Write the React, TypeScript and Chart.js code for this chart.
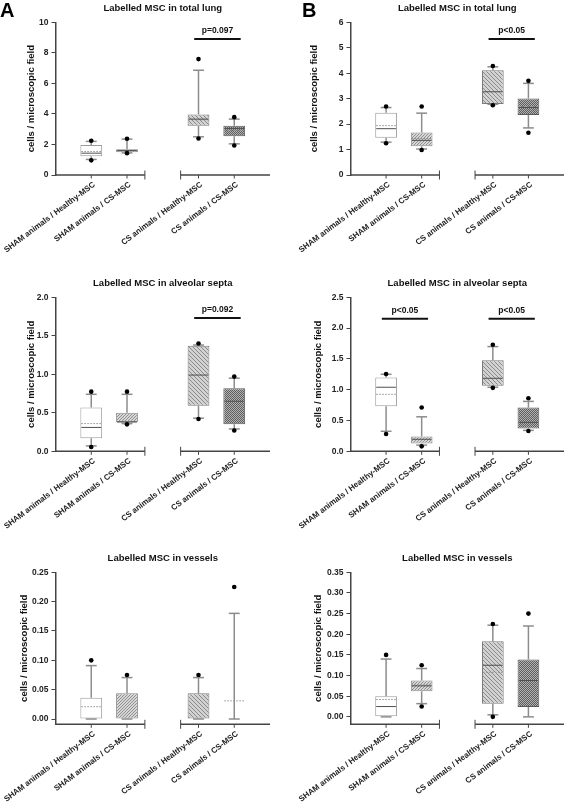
import React, { useEffect, useRef } from 'react';
import { Chart, registerables } from 'chart.js';

Chart.register(...registerables);

const FONT = "'Liberation Sans', Arial, Helvetica, sans-serif";

// ---------- shared categories ----------
const categories = ['', 'SHAM animals / Healthy-MSC', 'SHAM animals / CS-MSC', '', 'CS animals / Healthy-MSC', 'CS animals / CS-MSC', ''];
const groupSlots = [1, 2, 4, 5];
const yAxisTitle = 'cells / microscopic field';

// ---------- A: total lung ----------
const titleA1 = 'Labelled MSC in total lung';
const yTicksA1 = [0, 2, 4, 6, 8, 10];
const q1A1 = [1.23, 1.49, 3.22, 2.54];
const q3A1 = [1.97, 1.69, 3.97, 3.22];
const medA1 = [1.43, 1.6, 3.66, 3.05];
const meanA1 = [1.54, null, 3.62, 2.92];
const wLoA1 = [1.02, 1.45, 2.5, 2.04];
const wHiA1 = [2.2, 2.35, 6.86, 3.66];
const outLoA1 = [0.96, 1.43, 2.39, 1.93];
const outHiA1 = [2.24, 2.37, 7.59, 3.79];
const pBarsA1: [number, number, number, string][] = [[4, 5, 8.9, 'p=0.097']];

// ---------- B: total lung ----------
const titleB1 = 'Labelled MSC in total lung';
const yTicksB1 = [0, 1, 2, 3, 4, 5, 6];
const q1B1 = [1.46, 1.13, 2.79, 2.36];
const q3B1 = [2.45, 1.67, 4.12, 3.01];
const medB1 = [1.82, 1.36, 3.27, 2.65];
const meanB1 = [1.94, 1.43, null, 2.69];
const wLoB1 = [1.29, 1.02, 2.78, 1.85];
const wHiB1 = [2.65, 2.43, 4.25, 3.6];
const outLoB1 = [1.25, 0.98, 2.74, 1.66];
const outHiB1 = [2.69, 2.69, 4.28, 3.7];
const pBarsB1: [number, number, number, string][] = [[4, 5, 5.34, 'p<0.05']];

// ---------- A: alveolar septa ----------
const titleA2 = 'Labelled MSC in alveolar septa';
const yTicksA2 = [0, 0.5, 1.0, 1.5, 2.0];
const q1A2 = [0.17, 0.38, 0.59, 0.35];
const q3A2 = [0.57, 0.5, 1.37, 0.82];
const medA2 = [0.31, 0.38, 0.99, 0.65];
const meanA2 = [0.36, null, null, null];
const wLoA2 = [0.07, 0.36, 0.43, 0.29];
const wHiA2 = [0.74, 0.74, 1.38, 0.95];
const outLoA2 = [0.056, 0.35, 0.42, 0.27];
const outHiA2 = [0.775, 0.775, 1.4, 0.97];
const pBarsA2: [number, number, number, string][] = [[4, 5, 1.73, 'p=0.092']];

// ---------- B: alveolar septa ----------
const titleB2 = 'Labelled MSC in alveolar septa';
const yTicksB2 = [0, 0.5, 1.0, 1.5, 2.0, 2.5];
const q1B2 = [0.73, 0.125, 1.066, 0.37];
const q3B2 = [1.2, 0.24, 1.48, 0.71];
const medB2 = [1.04, 0.195, 1.185, 0.47];
const meanB2 = [0.925, null, null, null];
const wLoB2 = [0.325, 0.1, 1.04, 0.34];
const wHiB2 = [1.25, 0.56, 1.7, 0.81];
const outLoB2 = [0.28, 0.08, 1.03, 0.33];
const outHiB2 = [1.255, 0.71, 1.73, 0.86];
const pBarsB2: [number, number, number, string][] = [[1, 2, 2.15, 'p<0.05'], [4, 5, 2.15, 'p<0.05']];

// ---------- A: vessels ----------
const titleA3 = 'Labelled MSC in vessels';
const yTicksA3 = [0, 0.05, 0.1, 0.15, 0.2, 0.25];
const q1A3 = [0, 0, 0, null];
const q3A3 = [0.0364, 0.0438, 0.0438, null];
const medA3 = [null, null, null, null];
const meanA3 = [0.021, null, null, 0.031];
const wLoA3 = [0, 0, 0, 0];
const wHiA3 = [0.091, 0.0706, 0.0706, 0.18];
const outLoA3 = [null, null, null, null];
const outHiA3 = [0.1, 0.075, 0.075, 0.225];
const pBarsA3: [number, number, number, string][] = [];

// ---------- B: vessels ----------
const titleB3 = 'Labelled MSC in vessels';
const yTicksB3 = [0, 0.05, 0.1, 0.15, 0.2, 0.25, 0.3, 0.35];
const q1B3 = [0, 0.062, 0.0315, 0.024];
const q3B3 = [0.05, 0.088, 0.183, 0.139];
const medB3 = [0.025, 0.075, 0.125, 0.088];
const meanB3 = [0.042, 0.077, 0.108, null];
const wLoB3 = [0, 0.032, 0.005, 0];
const wHiB3 = [0.14, 0.117, 0.222, 0.22];
const outLoB3 = [null, 0.025, 0, null];
const outHiB3 = [0.15, 0.125, 0.225, 0.25];
const pBarsB3: [number, number, number, string][] = [];

type Num = number | null;
type Geo = { left: number; top: number; w: number; h: number; axisX: number; right: number; topY: number; bottomY: number; titleX: number };
type Panel = {
  title: string; ticks: number[]; dec: number; min: number; max: number;
  q1: Num[]; q3: Num[]; med: Num[]; mean: Num[]; wLo: Num[]; wHi: Num[]; oLo: Num[]; oHi: Num[];
  pBars: [number, number, number, string][]; g: Geo;
};

const panels: Panel[] = [
  { title: titleA1, ticks: yTicksA1, dec: 0, min: 0, max: 10, q1: q1A1, q3: q3A1, med: medA1, mean: meanA1, wLo: wLoA1, wHi: wHiA1, oLo: outLoA1, oHi: outHiA1, pBars: pBarsA1,
    g: { left: 0, top: 0, w: 283, h: 270, axisX: 55.5, right: 270, topY: 22.3, bottomY: 175, titleX: 31.7 } },
  { title: titleB1, ticks: yTicksB1, dec: 0, min: 0, max: 6, q1: q1B1, q3: q3B1, med: medB1, mean: meanB1, wLo: wLoB1, wHi: wHiB1, oLo: outLoB1, oHi: outHiB1, pBars: pBarsB1,
    g: { left: 283, top: 0, w: 284, h: 270, axisX: 67.5, right: 281, topY: 22.3, bottomY: 175, titleX: 31.7 } },
  { title: titleA2, ticks: yTicksA2, dec: 1, min: 0, max: 2, q1: q1A2, q3: q3A2, med: medA2, mean: meanA2, wLo: wLoA2, wHi: wHiA2, oLo: outLoA2, oHi: outHiA2, pBars: pBarsA2,
    g: { left: 0, top: 270, w: 283, h: 270, axisX: 55.5, right: 270, topY: 27.3, bottomY: 181.3, titleX: 31 } },
  { title: titleB2, ticks: yTicksB2, dec: 1, min: 0, max: 2.5, q1: q1B2, q3: q3B2, med: medB2, mean: meanB2, wLo: wLoB2, wHi: wHiB2, oLo: outLoB2, oHi: outHiB2, pBars: pBarsB2,
    g: { left: 283, top: 270, w: 284, h: 270, axisX: 67.5, right: 281, topY: 27.3, bottomY: 181.3, titleX: 35 } },
  { title: titleA3, ticks: yTicksA3, dec: 2, min: -0.009, max: 0.25, q1: q1A3, q3: q3A3, med: medA3, mean: meanA3, wLo: wLoA3, wHi: wHiA3, oLo: outLoA3, oHi: outHiA3, pBars: pBarsA3,
    g: { left: 0, top: 540, w: 283, h: 269, axisX: 55.5, right: 270, topY: 32.3, bottomY: 184.3, titleX: 24 } },
  { title: titleB3, ticks: yTicksB3, dec: 2, min: -0.018, max: 0.35, q1: q1B3, q3: q3B3, med: medB3, mean: meanB3, wLo: wLoB3, wHi: wHiB3, oLo: outLoB3, oHi: outHiB3, pBars: pBarsB3,
    g: { left: 283, top: 540, w: 284, h: 269, axisX: 67.5, right: 281, topY: 32.3, bottomY: 184.3, titleX: 35 } },
];

function makePattern(kind: string): CanvasPattern | string {
  const c = document.createElement('canvas');
  const ctx = c.getContext('2d');
  if (!ctx) return '#ccc';
  const px = (x: number, y: number, col: string) => { ctx.fillStyle = col; ctx.fillRect(x, y, 1, 1); };
  if (kind === 'fine') {
    c.width = 3; c.height = 3;
    ctx.fillStyle = '#d6d6d6'; ctx.fillRect(0, 0, 3, 3);
    px(2, 0, '#909090'); px(1, 1, '#909090'); px(0, 2, '#909090');
  } else if (kind === 'diag') {
    c.width = 4; c.height = 4;
    ctx.fillStyle = '#d2d2d2'; ctx.fillRect(0, 0, 4, 4);
    for (let i = 0; i < 4; i++) px(i, i, '#8a8a8a');
  } else {
    c.width = 2; c.height = 2;
    px(0, 0, '#5e5e5e'); px(1, 1, '#5e5e5e'); px(1, 0, '#b2b2b2'); px(0, 1, '#b2b2b2');
  }
  return ctx.createPattern(c, 'repeat') || '#ccc';
}

function slotArray(vals: Num[]): Num[] {
  const out: Num[] = categories.map(() => null);
  groupSlots.forEach((s, k) => { out[s] = vals[k]; });
  return out;
}

function makeDecor(p: Panel) {
  const barWidth = (chart: any) => {
    const meta = chart.getDatasetMeta(0);
    for (const s of groupSlots) {
      const el = meta.data[s];
      if (el && isFinite(el.width) && el.width > 0) return el.width;
    }
    return 20;
  };
  const hline = (ctx: CanvasRenderingContext2D, x0: number, x1: number, y: number) => {
    ctx.beginPath(); ctx.moveTo(x0, y); ctx.lineTo(x1, y); ctx.stroke();
  };
  const vline = (ctx: CanvasRenderingContext2D, x: number, y0: number, y1: number) => {
    ctx.beginPath(); ctx.moveTo(x, y0); ctx.lineTo(x, y1); ctx.stroke();
  };
  return {
    id: 'boxDecor',
    beforeDatasetsDraw(chart: any) {
      const { ctx, scales: { x, y } } = chart;
      const bw = barWidth(chart);
      const cap = bw / 2;
      ctx.save();
      ctx.strokeStyle = '#8c8c8c';
      ctx.lineWidth = 1.5;
      groupSlots.forEach((slot, k) => {
        const cx = x.getPixelForValue(slot);
        const hi = p.wHi[k];
        const lo = p.wLo[k];
        const upStart = p.q3[k] ?? lo ?? 0;
        const lowStart = p.q1[k] ?? lo ?? 0;
        if (hi != null) {
          vline(ctx, cx, y.getPixelForValue(upStart), y.getPixelForValue(hi));
          hline(ctx, cx - cap / 2, cx + cap / 2, y.getPixelForValue(hi));
        }
        if (lo != null) {
          vline(ctx, cx, y.getPixelForValue(lowStart), y.getPixelForValue(lo));
          hline(ctx, cx - cap / 2, cx + cap / 2, y.getPixelForValue(lo));
        }
      });
      ctx.restore();
    },
    afterDatasetDraw(chart: any, args: any) {
      if (args.index !== 0) return;
      const { ctx, scales: { x, y } } = chart;
      const bw = barWidth(chart);
      ctx.save();
      groupSlots.forEach((slot, k) => {
        const cx = x.getPixelForValue(slot);
        const m = p.med[k];
        const mn = p.mean[k];
        if (mn != null) {
          ctx.strokeStyle = '#8f8f8f'; ctx.lineWidth = 1; ctx.setLineDash([1.5, 1.5]);
          hline(ctx, cx - bw / 2 + 1, cx + bw / 2 - 1, y.getPixelForValue(mn));
        }
        if (m != null) {
          ctx.strokeStyle = '#505050'; ctx.lineWidth = 1; ctx.setLineDash([]);
          hline(ctx, cx - bw / 2 + 1, cx + bw / 2 - 1, y.getPixelForValue(m));
        }
      });
      ctx.restore();
    },
    afterDraw(chart: any) {
      const { ctx, chartArea, scales: { x, y } } = chart;
      const y0 = chartArea.bottom;
      ctx.save();
      ctx.strokeStyle = '#444';
      ctx.lineWidth = 1.5;
      hline(ctx, x.getPixelForValue(0), x.getPixelForValue(2.5), y0);
      hline(ctx, x.getPixelForValue(3.5), x.getPixelForValue(6), y0);
      ctx.lineWidth = 1;
      vline(ctx, x.getPixelForValue(2.5), y0 - 4.5, y0 + 4.5);
      vline(ctx, x.getPixelForValue(3.5), y0 - 4.5, y0 + 4.5);
      groupSlots.forEach((s) => vline(ctx, x.getPixelForValue(s), y0, y0 + 3.5));
      // significance bars
      p.pBars.forEach(([a, b, v, label]) => {
        const yy = y.getPixelForValue(v);
        ctx.strokeStyle = '#111';
        ctx.lineWidth = 2;
        const xa = x.getPixelForValue(a - 0.12);
        const xb = x.getPixelForValue(b + 0.18);
        hline(ctx, xa, xb, yy);
        ctx.fillStyle = '#111';
        ctx.font = `bold 8.5px ${FONT}`;
        ctx.textAlign = 'center';
        ctx.textBaseline = 'middle';
        ctx.fillText(label, (xa + xb) / 2, yy - 8);
      });
      ctx.restore();
    },
  };
}

function ChartPanel({ p }: { p: Panel }) {
  const ref = useRef<HTMLCanvasElement>(null);
  useEffect(() => {
    const canvas = ref.current;
    if (!canvas) return;
    const g = p.g;
    const fills = [
      null, '#ffffff', makePattern('fine'), null, makePattern('diag'), makePattern('check'), null,
    ];
    const borders = [null, '#9c9c9c', '#8a8a8a', null, '#7a7a7a', '#5a5a5a', null];
    const boxData = groupSlots.reduce((arr: any[], s, k) => {
      const a = p.q1[k]; const b = p.q3[k];
      arr[s] = a != null && b != null ? [a, b] : null;
      return arr;
    }, categories.map(() => null));
    const chart = new Chart(canvas, {
      type: 'bar',
      data: {
        labels: categories,
        datasets: [
          {
            type: 'bar', data: boxData, backgroundColor: fills as any, borderColor: borders as any,
            borderWidth: 1, borderSkipped: false, barPercentage: 0.61, categoryPercentage: 1, order: 3,
          } as any,
          {
            type: 'line', data: slotArray(p.oHi), showLine: false, pointRadius: 2.3, pointHoverRadius: 2.3,
            pointBackgroundColor: '#000', pointBorderColor: '#000', pointBorderWidth: 0, order: 1,
          } as any,
          {
            type: 'line', data: slotArray(p.oLo), showLine: false, pointRadius: 2.3, pointHoverRadius: 2.3,
            pointBackgroundColor: '#000', pointBorderColor: '#000', pointBorderWidth: 0, order: 2,
          } as any,
        ],
      },
      options: {
        animation: false,
        responsive: false,
        maintainAspectRatio: false,
        events: [],
        layout: { padding: { left: 0, right: g.w - g.right, top: g.topY - 19.4, bottom: 0 } },
        plugins: {
          legend: { display: false },
          tooltip: { enabled: false },
          title: {
            display: true, text: p.title, fullSize: false, color: '#111',
            font: { family: FONT, size: 9.5, weight: 'bold' }, padding: { top: 0, bottom: 8 },
          },
        },
        scales: {
          x: {
            type: 'category', offset: false,
            grid: { display: false }, border: { display: false },
            ticks: {
              autoSkip: false, minRotation: 37, maxRotation: 37, padding: -3, labelOffset: 3, color: '#222',
              font: { family: FONT, size: 8, weight: 'bold' },
            },
            afterFit: (s: any) => { s.height = g.h - g.bottomY; s.paddingLeft = 0; s.paddingRight = 0; },
          },
          y: {
            type: 'linear', min: p.min, max: p.max,
            afterBuildTicks: (s: any) => { s.ticks = p.ticks.map((v) => ({ value: v })); },
            ticks: {
              color: '#222', padding: 3, font: { family: FONT, size: 8.5, weight: 'bold' },
              callback: (v: any) => Number(v).toFixed(p.dec),
            },
            grid: { display: true, drawOnChartArea: false, drawTicks: true, tickLength: 4, color: '#444', lineWidth: 1 },
            border: { display: true, color: '#444', width: 1.5 },
            title: {
              display: true, text: yAxisTitle, color: '#111',
              font: { family: FONT, size: 9.5, weight: 'bold' }, padding: { top: g.titleX - 5.7, bottom: 0 },
            },
            afterFit: (s: any) => { s.width = g.axisX; },
          },
        },
      } as any,
      plugins: [makeDecor(p)],
    });
    return () => chart.destroy();
  }, [p]);
  return (
    <canvas
      ref={ref}
      width={p.g.w}
      height={p.g.h}
      style={{ position: 'absolute', left: p.g.left, top: p.g.top, width: p.g.w, height: p.g.h }}
    />
  );
}

export default function App() {
  const letter: React.CSSProperties = {
    position: 'absolute', top: 0, fontFamily: FONT, fontWeight: 'bold', fontSize: 20, lineHeight: '20px', color: '#000',
  };
  return (
    <div style={{ position: 'absolute', left: 0, top: 0, width: 567, height: 809, background: '#fff', overflow: 'hidden' }}>
      {panels.map((p, i) => <ChartPanel key={i} p={p} />)}
      <div style={{ ...letter, left: 0 }}>A</div>
      <div style={{ ...letter, left: 302 }}>B</div>
    </div>
  );
}
